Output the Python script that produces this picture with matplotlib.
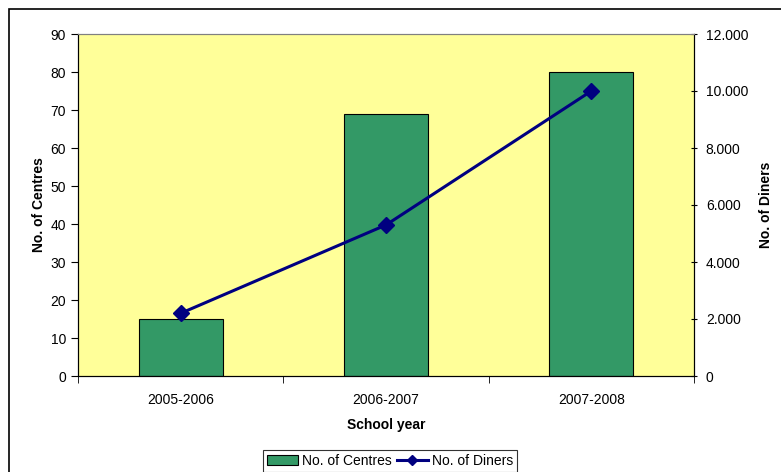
import matplotlib
matplotlib.use("Agg")
import matplotlib.pyplot as plt
from matplotlib.patches import Rectangle, Patch
from matplotlib.lines import Line2D
from matplotlib.ticker import FuncFormatter, MultipleLocator

years = ["2005-2006", "2006-2007", "2007-2008"]
centres = [15, 69, 80]
diners = [2200, 5300, 10000]

plt.rcParams['font.family'] = ['Liberation Sans', 'DejaVu Sans']
fs = 10

fig = plt.figure(figsize=(7.81, 4.72), dpi=100)
fig.patch.set_facecolor("white")
fig.patches.append(Rectangle((9/781, -0.2), 1.5, (472-9)/472 + 0.2, transform=fig.transFigure,
                             fill=False, edgecolor="black", linewidth=1.2, zorder=0))

ax = fig.add_axes([78/781, (472-376)/472, (694-78)/781, (376-34)/472])
ax.set_facecolor("#FFFF99")
x = list(range(len(years)))
ax.bar(x, centres, width=0.41, color="#339966", edgecolor="black", linewidth=0.8, zorder=2)
ax.set_xlim(-0.5, 2.5)
ax.set_ylim(0, 90)
ax.yaxis.set_major_locator(MultipleLocator(10))
ax.set_xticks(x)
ax.set_xticklabels(years, fontsize=fs)
ax.set_xticks([-0.5, 0.5, 1.5, 2.5], minor=True)
ax.tick_params(axis='x', which='major', length=0, pad=12)
ax.tick_params(axis='x', which='minor', length=5, direction='out', color='black')
ax.tick_params(axis='y', labelsize=fs, length=5, direction='out')
ax.set_ylabel("No. of Centres", fontsize=fs, fontweight='bold', labelpad=3)
ax.set_xlabel("School year", fontsize=fs, fontweight='bold', labelpad=8)
ax.spines["top"].set_color("#808080")
ax.spines["right"].set_color("black")

ax2 = ax.twinx()
ax2.plot(x, diners, color="#000080", linewidth=2.2, marker="D", markersize=8, zorder=3)
ax2.set_ylim(0, 12000)
ax2.yaxis.set_major_locator(MultipleLocator(2000))
ax2.yaxis.set_major_formatter(FuncFormatter(lambda v, p: f"{int(v):,}".replace(",", ".")))
ax2.tick_params(axis='y', labelsize=fs, length=5, direction='inout', pad=6)
ax2.set_ylabel("No. of Diners", fontsize=fs, fontweight='bold', labelpad=8)
ax2.spines["top"].set_color("#808080")

handles = [Patch(facecolor="#339966", edgecolor="black", linewidth=0.8),
           Line2D([], [], color="#000080", linewidth=2.2, marker="D", markersize=5)]
leg = fig.legend(handles, ["No. of Centres", "No. of Diners"], ncol=2, loc="center",
                 bbox_to_anchor=(390/781, (472-461)/472), fontsize=fs, frameon=True,
                 fancybox=False, edgecolor="black", handlelength=2.2, handletextpad=0.3,
                 columnspacing=0.4, borderpad=0.3)
leg.get_frame().set_linewidth(0.8)

fig.savefig("out.png", dpi=100)
